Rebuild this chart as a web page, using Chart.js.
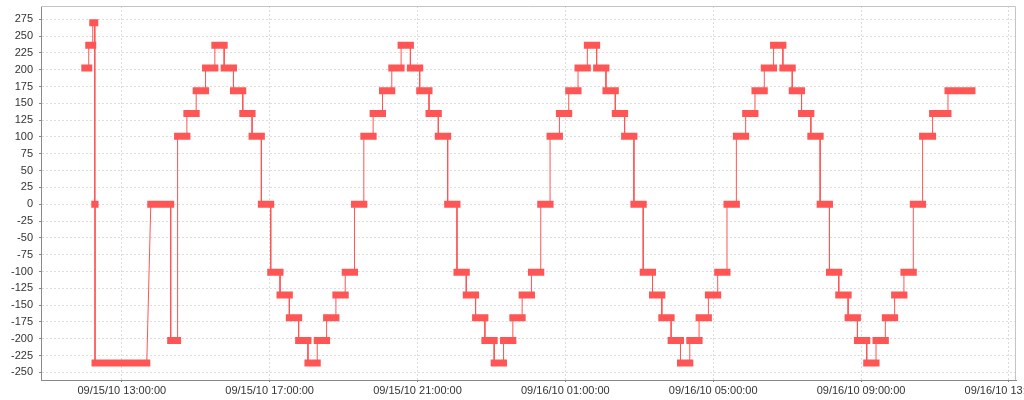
<!DOCTYPE html>
<html lang="en">
<head>
    <meta charset="UTF-8">
    <title>Step Chart</title>
    <script src="https://cdn.jsdelivr.net/npm/chart.js"></script>
    <style>
        body { margin: 0; background: #fff; }
    </style>
</head>
<body>
    <div style="width: 1024px; height: 400px;">
        <canvas id="stepChart"></canvas>
    </div>

    <script>
        // times are minutes after 09/15/10 00:00; each value is held from start to end
        const stepStart = [
            720.0, 726.4, 732.9, 736.2, 736.6, 827.1, 859.4,
            870.6, 885.7, 900.8, 916.0, 931.1, 946.2, 961.3, 976.4, 991.5, 1006.6,
            1021.8, 1036.9, 1052.0, 1067.1, 1082.2, 1097.3, 1112.5, 1127.6, 1142.7, 1157.8,
            1172.9, 1188.0, 1203.2, 1218.3, 1233.4, 1248.5, 1263.6, 1278.7, 1293.8, 1309.0,
            1324.1, 1339.2, 1354.3, 1369.4, 1384.5, 1399.7, 1414.8, 1429.9, 1445.0, 1460.1,
            1475.2, 1490.4, 1505.5, 1520.6, 1535.7, 1550.8, 1565.9, 1581.1, 1596.2, 1611.3,
            1626.4, 1641.5, 1656.6, 1671.7, 1686.9, 1702.0, 1717.1, 1732.2, 1747.3, 1762.4,
            1777.6, 1792.7, 1807.8, 1822.9, 1838.0, 1853.1, 1868.3, 1883.4, 1898.5, 1913.6,
            1928.7, 1943.8, 1959.0, 1974.1, 1989.2, 2004.3, 2019.4, 2034.5, 2049.6, 2064.8,
            2079.9, 2096.1, 2121.1
        ];
        const stepEnd = [
            726.4, 732.9, 736.2, 736.6, 820.6, 859.4, 870.6,
            885.7, 900.8, 916.0, 931.1, 946.2, 961.3, 976.4, 991.5, 1006.6, 1021.8,
            1036.9, 1052.0, 1067.1, 1082.2, 1097.3, 1112.5, 1127.6, 1142.7, 1157.8, 1172.9,
            1188.0, 1203.2, 1218.3, 1233.4, 1248.5, 1263.6, 1278.7, 1293.8, 1309.0, 1324.1,
            1339.2, 1354.3, 1369.4, 1384.5, 1399.7, 1414.8, 1429.9, 1445.0, 1460.1, 1475.2,
            1490.4, 1505.5, 1520.6, 1535.7, 1550.8, 1565.9, 1581.1, 1596.2, 1611.3, 1626.4,
            1641.5, 1656.6, 1671.7, 1686.9, 1702.0, 1717.1, 1732.2, 1747.3, 1762.4, 1777.6,
            1792.7, 1807.8, 1822.9, 1838.0, 1853.1, 1868.3, 1883.4, 1898.5, 1913.6, 1928.7,
            1943.8, 1959.0, 1974.1, 1989.2, 2004.3, 2019.4, 2034.5, 2049.6, 2064.8, 2079.9,
            2096.1, 2121.1, 2160.0
        ];
        const stepValue = [
            202.5, 236.25, 270, 0, -236.25, 0, -202.5,
            101.25, 135, 168.75, 202.5, 236.25, 202.5, 168.75, 135, 101.25, 0,
            -101.25, -135, -168.75, -202.5, -236.25, -202.5, -168.75, -135, -101.25, 0,
            101.25, 135, 168.75, 202.5, 236.25, 202.5, 168.75, 135, 101.25, 0,
            -101.25, -135, -168.75, -202.5, -236.25, -202.5, -168.75, -135, -101.25, 0,
            101.25, 135, 168.75, 202.5, 236.25, 202.5, 168.75, 135, 101.25, 0,
            -101.25, -135, -168.75, -202.5, -236.25, -202.5, -168.75, -135, -101.25, 0,
            101.25, 135, 168.75, 202.5, 236.25, 202.5, 168.75, 135, 101.25, 0,
            -101.25, -135, -168.75, -202.5, -236.25, -202.5, -168.75, -135, -101.25, 0,
            101.25, 135, 168.75
        ];

        const xTicks = [780, 1020, 1260, 1500, 1740, 1980, 2220];
        const yTicks = [-250, -225, -200, -175, -150, -125, -100, -75, -50, -25, 0,
                        25, 50, 75, 100, 125, 150, 175, 200, 225, 250, 275];

        const red = '#ff5555';

        // thin line through every step, thick bars with a break between steps
        const linePoints = [];
        const barPoints = [];
        stepValue.forEach((v, i) => {
            linePoints.push({ x: stepStart[i], y: v }, { x: stepEnd[i], y: v });
            barPoints.push({ x: stepStart[i], y: v }, { x: stepEnd[i], y: v }, { x: stepEnd[i], y: null });
        });

        function timeLabel(value) {
            const day = 15 + Math.floor(value / 1440);
            const hour = Math.floor((value % 1440) / 60);
            return '09/' + day + '/10 ' + String(hour).padStart(2, '0') + ':00:00';
        }

        const outline = {
            id: 'outline',
            afterDraw(chart) {
                const { ctx, chartArea: a } = chart;
                ctx.save();
                ctx.strokeStyle = '#c4c4c4';
                ctx.lineWidth = 1;
                ctx.beginPath();
                ctx.moveTo(a.left, a.top + 0.5);
                ctx.lineTo(a.right - 0.5, a.top + 0.5);
                ctx.lineTo(a.right - 0.5, a.bottom);
                ctx.stroke();
                ctx.restore();
            }
        };

        Chart.defaults.font.family = '"Liberation Sans", Arial, sans-serif';
        Chart.defaults.font.size = 11;
        Chart.defaults.color = '#333';

        const ctx = document.getElementById('stepChart').getContext('2d');
        new Chart(ctx, {
            type: 'line',
            data: {
                datasets: [
                    {
                        data: barPoints,
                        borderColor: red,
                        borderWidth: 7,
                        borderCapStyle: 'square',
                        pointRadius: 0,
                        spanGaps: false,
                        tension: 0,
                    },
                    {
                        data: linePoints,
                        borderColor: red,
                        borderWidth: 1,
                        pointRadius: 0,
                        tension: 0,
                    }
                ],
            },
            options: {
                responsive: true,
                maintainAspectRatio: false,
                animation: false,
                layout: { padding: { top: 6, right: 8, left: 0, bottom: 0 } },
                plugins: {
                    legend: { display: false },
                    tooltip: { enabled: false },
                },
                scales: {
                    x: {
                        type: 'linear',
                        min: 648.9,
                        max: 2231.5,
                        afterBuildTicks: axis => { axis.ticks = xTicks.map(v => ({ value: v })); },
                        afterFit: axis => {
                            axis.height = 20;
                            axis.paddingLeft = 0;
                            axis.paddingRight = 0;
                        },
                        ticks: {
                            autoSkip: false,
                            maxRotation: 0,
                            minRotation: 0,
                            padding: 2,
                            color: '#333',
                            callback: value => timeLabel(value),
                        },
                        grid: { color: '#dcdcdc', tickColor: '#888', tickLength: 2, tickBorderDash: [] },
                        border: { color: '#888', dash: [2, 2] },
                    },
                    y: {
                        min: -261.4,
                        max: 294.8,
                        afterBuildTicks: axis => { axis.ticks = yTicks.map(v => ({ value: v })); },
                        afterFit: axis => {
                            axis.width = 41;
                            axis.paddingTop = 0;
                            axis.paddingBottom = 0;
                        },
                        ticks: { padding: 6, color: '#333' },
                        grid: { color: '#dcdcdc', tickColor: '#888', tickLength: 2, tickBorderDash: [] },
                        border: { color: '#888', dash: [2, 2] },
                    },
                },
            },
            plugins: [outline],
        });
    </script>
</body>
</html>
